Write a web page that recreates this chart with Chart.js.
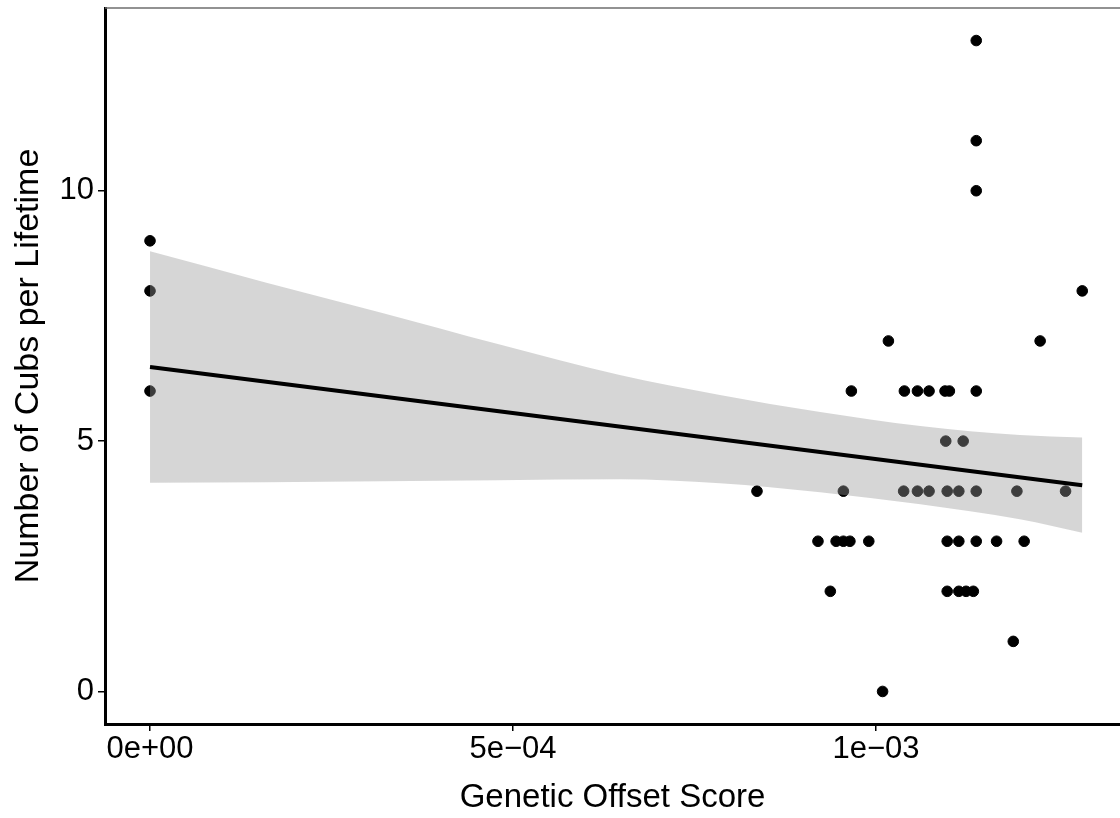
<!DOCTYPE html>
<html>
<head>
<meta charset="utf-8">
<script src="https://cdn.jsdelivr.net/npm/chart.js@4"></script>
<style>
  html, body { margin: 0; padding: 0; background: #fff; }
  #wrap { width: 1120px; height: 818px; }
</style>
</head>
<body>
<div id="wrap"><canvas id="chart" width="1120" height="818"></canvas></div>
<script>
// Genetic offset score (x) vs cubs per lifetime (y), one entry per individual
const offsetScores = [
    0, 0, 0,
    0.000836, 0.000920, 0.000945, 0.000955, 0.000964, 0.000990, 0.000937,
    0.000955, 0.000966, 0.001017, 0.001009,
    0.001039, 0.001057, 0.001073, 0.001095, 0.001101, 0.001138,
    0.001096, 0.001120,
    0.001038, 0.001057, 0.001073, 0.001098, 0.001114, 0.001138, 0.001194, 0.001261,
    0.001098, 0.001114, 0.001138, 0.001166, 0.001204,
    0.001098, 0.001114, 0.001124, 0.001134,
    0.001189, 0.001226, 0.001284,
    0.001138, 0.001138, 0.001138
];
const cubsPerLifetime = [
    9, 8, 6,
    4, 3, 3, 3, 3, 3, 2,
    4, 6, 7, 0,
    6, 6, 6, 6, 6, 6,
    5, 5,
    4, 4, 4, 4, 4, 4, 4, 4,
    3, 3, 3, 3, 3,
    2, 2, 2, 2,
    1, 7, 8,
    10, 11, 13
];

// linear fit and its 95% band
const fitX = [0, 0.001284];
const fitY = [6.48, 4.12];
const bandX     = [0, 0.000159, 0.000320, 0.000479, 0.000647, 0.000785, 0.000923, 0.001061, 0.001198, 0.001284];
const bandUpper = [8.79, 8.17, 7.56, 6.94, 6.32, 5.92, 5.58, 5.30, 5.12, 5.07];
const bandLower = [4.17, 4.18, 4.20, 4.22, 4.24, 4.16, 3.98, 3.74, 3.44, 3.17];

// axis ticks
const xTickValues = [0, 0.0005, 0.001];
const xTickLabels = ['0e+00', '5e\u221204', '1e\u221203'];
const yTickValues = [0, 5, 10];
const yTickLabels = ['0', '5', '10'];

const pts = (xs, ys) => xs.map((x, i) => ({ x: x, y: ys[i] }));

const FONT = "'Liberation Sans', Arial, Helvetica, sans-serif";

// thin frame line along the top of the panel
const topBorder = {
    id: 'topBorder',
    afterDraw(chart) {
        const { ctx, chartArea } = chart;
        ctx.save();
        ctx.strokeStyle = '#6e6e6e';
        ctx.lineWidth = 1.5;
        ctx.beginPath();
        ctx.moveTo(chartArea.left, chartArea.top);
        ctx.lineTo(chart.width, chartArea.top);
        ctx.stroke();
        ctx.restore();
    }
};

new Chart(document.getElementById('chart'), {
    type: 'scatter',
    data: {
        datasets: [
            {
                label: 'cubs',
                data: pts(offsetScores, cubsPerLifetime),
                backgroundColor: '#000',
                borderColor: '#000',
                pointRadius: 5.3,
                pointHoverRadius: 5.3,
                order: 3
            },
            {
                type: 'line',
                label: 'lower',
                data: pts(bandX, bandLower),
                borderWidth: 0,
                borderColor: 'rgba(0,0,0,0)',
                pointRadius: 0,
                cubicInterpolationMode: 'monotone',
                fill: false,
                order: 2
            },
            {
                type: 'line',
                label: 'upper',
                data: pts(bandX, bandUpper),
                borderWidth: 0,
                borderColor: 'rgba(0,0,0,0)',
                backgroundColor: 'rgba(153,153,153,0.4)',
                pointRadius: 0,
                cubicInterpolationMode: 'monotone',
                fill: '-1',
                order: 1
            },
            {
                type: 'line',
                label: 'fit',
                data: pts(fitX, fitY),
                borderColor: '#000',
                borderWidth: 4,
                pointRadius: 0,
                fill: false,
                order: 0
            }
        ]
    },
    options: {
        responsive: false,
        animation: false,
        layout: { autoPadding: false, padding: { top: 8, right: 0, left: 0, bottom: 0 } },
        plugins: {
            legend: { display: false },
            tooltip: { enabled: false }
        },
        scales: {
            x: {
                type: 'linear',
                min: -0.000062,
                max: 0.001336,
                afterBuildTicks: axis => { axis.ticks = xTickValues.map(v => ({ value: v })); },
                afterFit: axis => {
                    axis.height = 94;
                    axis.paddingLeft = 0;
                    axis.paddingRight = 0;
                },
                grid: { drawOnChartArea: false, drawTicks: true, tickLength: 7, color: '#000', lineWidth: 1.5 },
                border: { display: true, color: '#000', width: 3 },
                ticks: {
                    padding: 0,
                    color: '#000',
                    font: { family: FONT, size: 31 },
                    maxRotation: 0,
                    callback: (v, i) => xTickLabels[i]
                },
                title: {
                    display: true,
                    text: 'Genetic Offset Score',
                    color: '#000',
                    font: { family: FONT, size: 33 },
                    padding: { top: 8, bottom: 0 }
                }
            },
            y: {
                type: 'linear',
                min: -0.65,
                max: 13.65,
                afterBuildTicks: axis => { axis.ticks = yTickValues.map(v => ({ value: v })); },
                afterFit: axis => {
                    axis.width = 105;
                    axis.paddingTop = 0;
                    axis.paddingBottom = 0;
                },
                grid: { drawOnChartArea: false, drawTicks: true, tickLength: 7, color: '#000', lineWidth: 1.5 },
                border: { display: true, color: '#000', width: 3 },
                ticks: {
                    padding: 4,
                    color: '#000',
                    font: { family: FONT, size: 31 },
                    callback: (v, i) => yTickLabels[i]
                },
                title: {
                    display: true,
                    text: 'Number of Cubs per Lifetime',
                    color: '#000',
                    font: { family: FONT, size: 34 },
                    padding: { top: 8, bottom: 0 }
                }
            }
        }
    },
    plugins: [topBorder]
});
</script>
</body>
</html>
